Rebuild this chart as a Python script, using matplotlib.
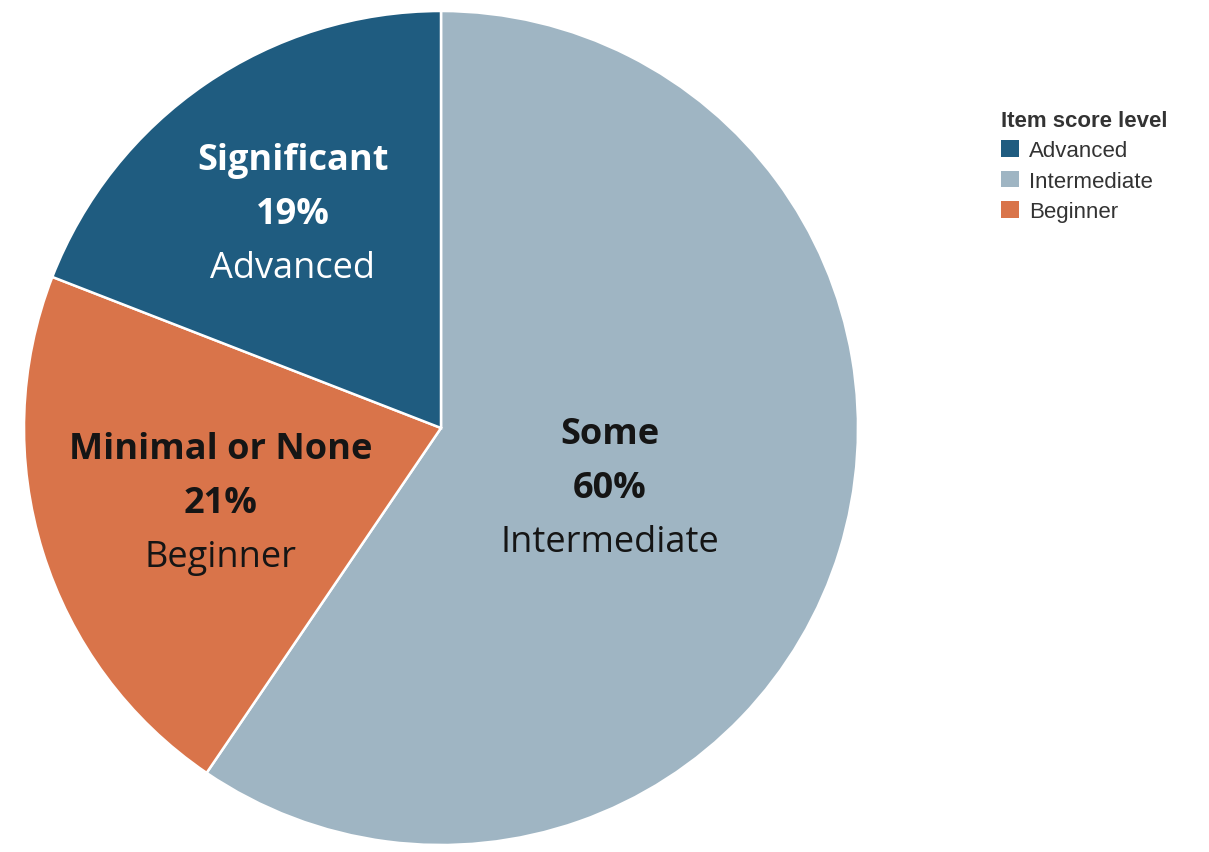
import matplotlib
matplotlib.use("Agg")
import matplotlib.pyplot as plt
from matplotlib.patches import Patch

categories = ["Advanced", "Intermediate", "Beginner"]
levels = ["Significant", "Some", "Minimal or None"]
values = [19.1, 59.5, 21.4]
colors = {"Advanced": "#1f5c80", "Intermediate": "#9fb5c3", "Beginner": "#d9744a"}

# pie order: Intermediate starting at top clockwise, then Beginner, then Advanced
order = [1, 2, 0]

W, H = 1209, 853
fig = plt.figure(figsize=(W / 100, H / 100), dpi=100)
cx, cy, r = 441, 429, 417
ax = fig.add_axes([(cx - r) / W, (H - cy - r) / H, 2 * r / W, 2 * r / H])
ax.pie([values[i] for i in order],
       colors=[colors[categories[i]] for i in order],
       startangle=90, counterclock=False, radius=1.0,
       wedgeprops=dict(edgecolor="white", linewidth=1.8))
ax.set_xlim(-1, 1)
ax.set_ylim(-1, 1)
ax.set_aspect("equal")
ax.axis("off")

font = "Open Sans"
fs = 26
label_pos = {"Advanced": (293, 161), "Intermediate": (610, 435), "Beginner": (221, 450)}
text_col = {"Advanced": "white", "Intermediate": "#151515", "Beginner": "#151515"}
for i, cat in enumerate(categories):
    px, py = label_pos[cat]
    x = (px - cx) / r
    y = (cy - py) / r
    dy = 54 / r
    c = text_col[cat]
    ax.text(x, y, levels[i], ha="center", va="center", fontsize=fs, fontweight="bold",
            family=font, color=c)
    ax.text(x, y - dy, f"{round(values[i])}%", ha="center", va="center", fontsize=fs,
            fontweight="bold", family=font, color=c)
    ax.text(x, y - 2 * dy, cat, ha="center", va="center", fontsize=fs, family=font, color=c)

handles = [Patch(facecolor=colors[c], edgecolor="none", label=c) for c in categories]
leg = fig.legend(handles=handles, title="Item score level", loc="upper left",
                 bbox_to_anchor=(985 / W, 1 - 95 / H), frameon=False,
                 prop={"family": "Liberation Sans", "size": 16},
                 title_fontproperties={"family": "Liberation Sans", "size": 16, "weight": "bold"},
                 handlelength=0.82, handleheight=0.75, handletextpad=0.45,
                 labelspacing=0.43, borderpad=0.2, alignment="left")
for t in leg.get_texts():
    t.set_color("#333333")
leg.get_title().set_color("#333333")

fig.savefig("out.png", dpi=100, facecolor="white")
